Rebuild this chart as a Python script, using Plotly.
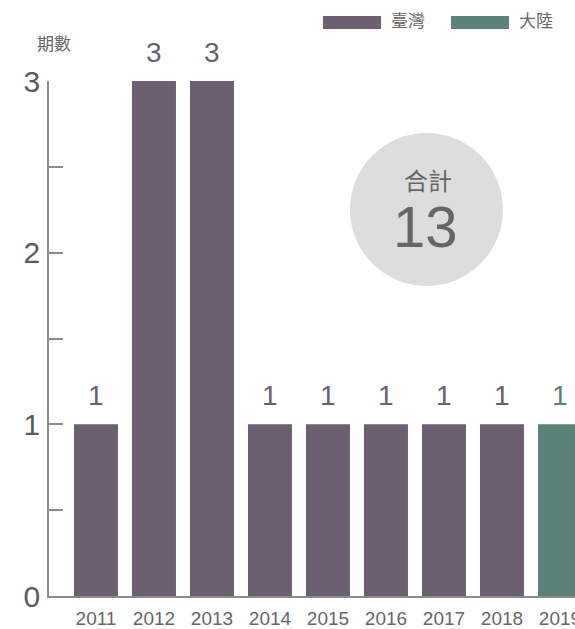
import plotly.graph_objects as go

# ---- data ----
years = ["2011", "2012", "2013", "2014", "2015", "2016", "2017", "2018", "2019"]
taiwan_years = ["2011", "2012", "2013", "2014", "2015", "2016", "2017", "2018"]
taiwan_values = [1, 3, 3, 1, 1, 1, 1, 1]
mainland_years = ["2019"]
mainland_values = [1]
series_names = ["臺灣", "大陸"]
y_tick_vals = [0, 1, 2, 3]
total_label = "合計"
total_value = sum(taiwan_values) + sum(mainland_values)

# ---- style ----
W, H = 575, 629
ML, MR, MT, MB = 49, 0, 81, 33
PW, PH = W - ML - MR, H - MT - MB
C_TW = "#6b5f70"
C_ML = "#5a8279"
GRAY = "#666666"
AXIS = "#8c8c8c"
FONT = "Liberation Sans, Arial, Noto Sans CJK TC, sans-serif"


def px_x(x):
    return (x - ML) / PW


def px_y(y):
    return (H - MB - y) / PH


fig = go.Figure()
bar_w = 44 / 58
fig.add_trace(go.Bar(x=taiwan_years, y=taiwan_values, name=series_names[0],
                     marker=dict(color=C_TW, line=dict(width=0)), width=bar_w,
                     showlegend=False, hoverinfo="skip"))
fig.add_trace(go.Bar(x=mainland_years, y=mainland_values, name=series_names[1],
                     marker=dict(color=C_ML, line=dict(width=0)), width=bar_w,
                     showlegend=False, hoverinfo="skip"))

annotations = []
for xs, vs, col in ((taiwan_years, taiwan_values, C_TW), (mainland_years, mainland_values, C_ML)):
    for x, v in zip(xs, vs):
        annotations.append(dict(x=years.index(x), y=v, xref="x", yref="y", text=str(v),
                                showarrow=False, yanchor="bottom", yshift=11,
                                font=dict(size=28, color=col, family=FONT)))

# y-axis title
annotations.append(dict(x=px_x(54), y=px_y(44), xref="paper", yref="paper", text="期數",
                        showarrow=False, xanchor="center", yanchor="middle",
                        font=dict(size=17, color=GRAY, family=FONT)))

# legend (drawn)
shapes = []
legend_items = [(series_names[0], C_TW, 323, 381, 389), (series_names[1], C_ML, 451, 509, 517)]
for name, col, x0, x1, tx in legend_items:
    shapes.append(dict(type="rect", xref="paper", yref="paper", x0=px_x(x0), x1=px_x(x1),
                       y0=px_y(29), y1=px_y(16), fillcolor=col, line=dict(width=0)))
    annotations.append(dict(x=px_x(tx), y=px_y(22), xref="paper", yref="paper", text=name,
                            showarrow=False, xanchor="left", yanchor="middle",
                            font=dict(size=17, color=GRAY, family=FONT)))

# total circle
shapes.append(dict(type="circle", xref="paper", yref="paper", x0=px_x(350), x1=px_x(503),
                   y0=px_y(286), y1=px_y(133), fillcolor="#dcdddc", line=dict(width=0),
                   layer="below"))
annotations.append(dict(x=px_x(428), y=px_y(181), xref="paper", yref="paper", text=total_label,
                        showarrow=False, xanchor="center", yanchor="middle",
                        font=dict(size=24, color=GRAY, family=FONT)))
annotations.append(dict(x=px_x(425), y=px_y(226), xref="paper", yref="paper", text=str(total_value),
                        showarrow=False, xanchor="center", yanchor="middle",
                        font=dict(size=58, color=GRAY, family=FONT)))

fig.update_layout(
    width=W, height=H,
    margin=dict(l=ML, r=MR, t=MT, b=MB, pad=0, autoexpand=False),
    paper_bgcolor="white", plot_bgcolor="white",
    barmode="overlay",
    showlegend=False,
    shapes=shapes,
    annotations=annotations,
    font=dict(family=FONT, color=GRAY),
    hovermode=False,
)
fig.update_xaxes(
    type="category", categoryorder="array", categoryarray=years,
    range=[-0.81, -0.81 + PW / 58],
    showline=True, linecolor=AXIS, linewidth=1.5,
    ticks="", showgrid=False, zeroline=False, automargin=False,
    tickfont=dict(size=19, color=GRAY, family=FONT),
    ticklabelstandoff=4,
)
fig.update_yaxes(
    range=[0, 3], tickvals=y_tick_vals, ticktext=[str(v) for v in y_tick_vals],
    showline=True, linecolor=AXIS, linewidth=1.5,
    ticks="inside", ticklen=14, tickcolor=AXIS, tickwidth=1.5,
    minor=dict(ticks="inside", ticklen=14, tickcolor=AXIS, tickwidth=1.5, dtick=0.5, showgrid=False),
    showgrid=False, zeroline=False, automargin=False,
    tickfont=dict(size=30, color="#5a5a5a", family=FONT),
    ticklabelstandoff=1,
)

fig.write_html("out.html", config={"displayModeBar": False},
               post_script="document.body.style.margin='0';document.body.style.overflow='hidden';")
